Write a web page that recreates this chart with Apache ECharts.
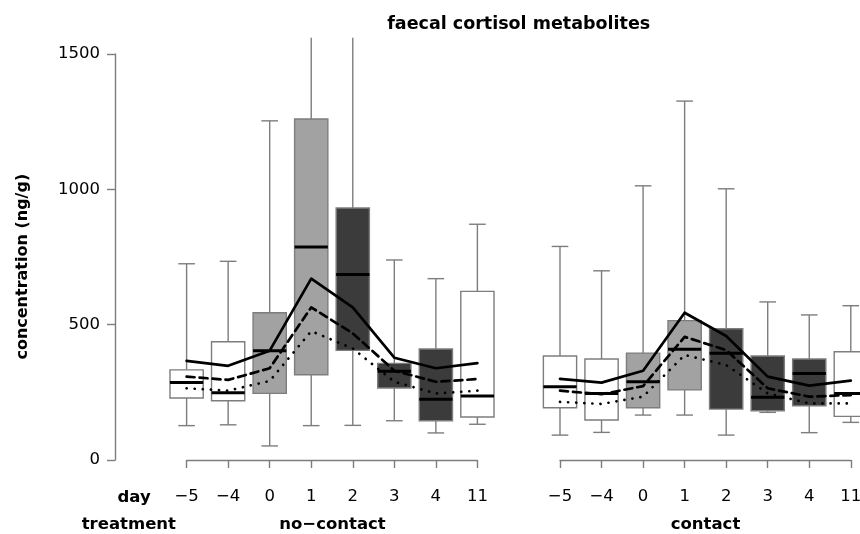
<!DOCTYPE html>
<html>
<head>
<meta charset="utf-8">
<title>faecal cortisol metabolites</title>
<script src="https://cdn.jsdelivr.net/npm/echarts@6/dist/echarts.min.js"></script>
<style>
  html, body { margin: 0; padding: 0; background: #fff; }
  #chart { width: 860px; height: 534px; }
</style>
</head>
<body>
<div id="chart"></div>
<script>
// days on the x axis (same for both treatments)
const days = ['\u22125', '\u22124', '0', '1', '2', '3', '4', '11'];
const treatments = ['no\u2212contact', 'contact'];

// box stats per day: [lower whisker, Q1, median, Q3, upper whisker]
// (day 1 and 2 of no-contact run off the top of the plot)
const noContactBoxes = [
  [127, 229, 286, 333, 725],
  [130, 219, 248, 437, 734],
  [52, 246, 404, 544, 1253],
  [127, 315, 787, 1260, 1900],
  [128, 405, 685, 931, 2100],
  [145, 266, 328, 357, 739],
  [100, 145, 224, 410, 670],
  [132, 159, 236, 623, 871]
];
const contactBoxes = [
  [92, 193, 271, 384, 789],
  [102, 148, 246, 373, 699],
  [166, 193, 289, 395, 1013],
  [166, 259, 409, 515, 1326],
  [92, 188, 394, 485, 1002],
  [176, 182, 232, 384, 584],
  [101, 200, 320, 373, 536],
  [139, 161, 246, 400, 570]
];

// the three summary lines drawn over the boxes
const noContactSolid = [366, 348, 404, 670, 564, 378, 339, 358];
const noContactDashed = [308, 296, 339, 564, 468, 330, 289, 299];
const noContactDotted = [265, 256, 292, 476, 412, 289, 246, 256];
const contactSolid = [300, 286, 330, 544, 458, 308, 275, 293];
const contactDashed = [256, 243, 273, 455, 406, 265, 234, 240];
const contactDotted = [215, 207, 234, 388, 351, 246, 209, 209];

const yTicks = [0, 500, 1000, 1500];

// fill of each day's box
const WHITE = '#ffffff', LIGHT = '#a2a2a2', DARK = '#3b3b3b';
const boxFill = [WHITE, WHITE, LIGHT, LIGHT, DARK, DARK, DARK, WHITE];
const GRAY = '#7d7d7d';
const FONT = 'DejaVu Sans';
const Y_CLIP = 1560; // top of the plotting region

const chart = echarts.init(document.getElementById('chart'));

function renderBox(params, api) {
  const i = api.value(0);
  const lo = api.value(1), q1 = api.value(2), med = api.value(3), q3 = api.value(4), hi = api.value(5);
  const band = api.size([1, 0])[0];
  const half = band * 0.4, capHalf = band * 0.2;
  const x = api.coord([i, med])[0];
  const yLo = api.coord([i, lo])[1];
  const yQ1 = api.coord([i, q1])[1];
  const yMed = api.coord([i, med])[1];
  const yQ3 = api.coord([i, q3])[1];
  const yHi = api.coord([i, Math.min(hi, Y_CLIP)])[1];
  const lineStyle = { stroke: GRAY, lineWidth: 1.4 };
  const children = [
    { type: 'line', shape: { x1: x, y1: yQ1, x2: x, y2: yLo }, style: lineStyle },
    { type: 'line', shape: { x1: x - capHalf, y1: yLo, x2: x + capHalf, y2: yLo }, style: lineStyle },
    { type: 'line', shape: { x1: x, y1: yQ3, x2: x, y2: yHi }, style: lineStyle }
  ];
  if (hi <= Y_CLIP) {
    children.push({ type: 'line', shape: { x1: x - capHalf, y1: yHi, x2: x + capHalf, y2: yHi }, style: lineStyle });
  }
  children.push({
    type: 'rect',
    shape: { x: x - half, y: yQ3, width: half * 2, height: yQ1 - yQ3 },
    style: { fill: boxFill[i], stroke: GRAY, lineWidth: 1.4 }
  });
  children.push({
    type: 'line',
    shape: { x1: x - half, y1: yMed, x2: x + half, y2: yMed },
    style: { stroke: '#000', lineWidth: 3 }
  });
  return { type: 'group', children: children };
}

function boxSeries(stats, idx) {
  return {
    type: 'custom',
    xAxisIndex: idx,
    yAxisIndex: idx,
    renderItem: renderBox,
    encode: { x: 0, y: [1, 2, 3, 4, 5] },
    data: stats.map((s, i) => [i].concat(s)),
    silent: true,
    z: 2
  };
}

function lineSeries(values, idx, type) {
  return {
    type: 'line',
    xAxisIndex: idx,
    yAxisIndex: idx,
    data: values,
    symbol: 'none',
    silent: true,
    z: 5,
    lineStyle: { color: '#000', width: 2.7, type: type, cap: 'round', join: 'round' }
  };
}

function xAxisFor(idx) {
  return {
    type: 'category',
    gridIndex: idx,
    data: days,
    boundaryGap: false,
    position: 'bottom',
    offset: 15,
    axisLine: { show: true, lineStyle: { color: GRAY, width: 1.4 } },
    axisTick: { show: true, length: 8, interval: 0, lineStyle: { color: GRAY, width: 1.4 } },
    axisLabel: { interval: 0, margin: 13, color: '#000', fontSize: 16.5, fontFamily: FONT },
    splitLine: { show: false }
  };
}

function yAxisFor(idx, visible) {
  return {
    type: 'value',
    gridIndex: idx,
    min: 0,
    max: 1500,
    interval: 500,
    show: visible,
    offset: 71.6,
    axisLine: { show: true, lineStyle: { color: GRAY, width: 1.4 } },
    axisTick: { show: true, length: 8, lineStyle: { color: GRAY, width: 1.4 } },
    axisLabel: {
      margin: 15, color: '#000', fontSize: 16.5, fontFamily: FONT,
      formatter: (v) => yTicks.includes(v) ? String(v) : ''
    },
    splitLine: { show: false }
  };
}

const option = {
  backgroundColor: '#fff',
  animation: false,
  grid: [
    { left: 186.6, width: 290.8, top: 54, height: 406, outerBoundsMode: 'none', containLabel: false },
    { left: 560, width: 290.8, top: 54, height: 406, outerBoundsMode: 'none', containLabel: false }
  ],
  xAxis: [xAxisFor(0), xAxisFor(1)],
  yAxis: [yAxisFor(0, true), yAxisFor(1, false)],
  series: [
    boxSeries(noContactBoxes, 0),
    boxSeries(contactBoxes, 1),
    lineSeries(noContactSolid, 0, 'solid'),
    lineSeries(noContactDashed, 0, [8, 5]),
    lineSeries(noContactDotted, 0, [0.1, 8]),
    lineSeries(contactSolid, 1, 'solid'),
    lineSeries(contactDashed, 1, [8, 5]),
    lineSeries(contactDotted, 1, [0.1, 8])
  ],
  graphic: [
    {
      type: 'text', x: 518.7, y: 24,
      style: { text: 'faecal cortisol metabolites', fontFamily: FONT, fontWeight: 'bold', fontSize: 17.5, fill: '#000', align: 'center', verticalAlign: 'middle' }
    },
    {
      type: 'text', x: 23, y: 266.7, rotation: Math.PI / 2,
      style: { text: 'concentration (ng/g)', fontFamily: FONT, fontWeight: 'bold', fontSize: 16, fill: '#000', align: 'center', verticalAlign: 'middle' }
    },
    {
      type: 'text', x: 150.7, y: 497.3,
      style: { text: 'day', fontFamily: FONT, fontWeight: 'bold', fontSize: 16.5, fill: '#000', align: 'right', verticalAlign: 'middle' }
    },
    {
      type: 'text', x: 81.7, y: 525,
      style: { text: 'treatment', fontFamily: FONT, fontWeight: 'bold', fontSize: 16.5, fill: '#000', align: 'left', verticalAlign: 'middle' }
    },
    {
      type: 'text', x: 332.5, y: 525,
      style: { text: treatments[0], fontFamily: FONT, fontWeight: 'bold', fontSize: 16.5, fill: '#000', align: 'center', verticalAlign: 'middle' }
    },
    {
      type: 'text', x: 705.5, y: 525,
      style: { text: treatments[1], fontFamily: FONT, fontWeight: 'bold', fontSize: 16.5, fill: '#000', align: 'center', verticalAlign: 'middle' }
    }
  ]
};

chart.setOption(option);
</script>
</body>
</html>
